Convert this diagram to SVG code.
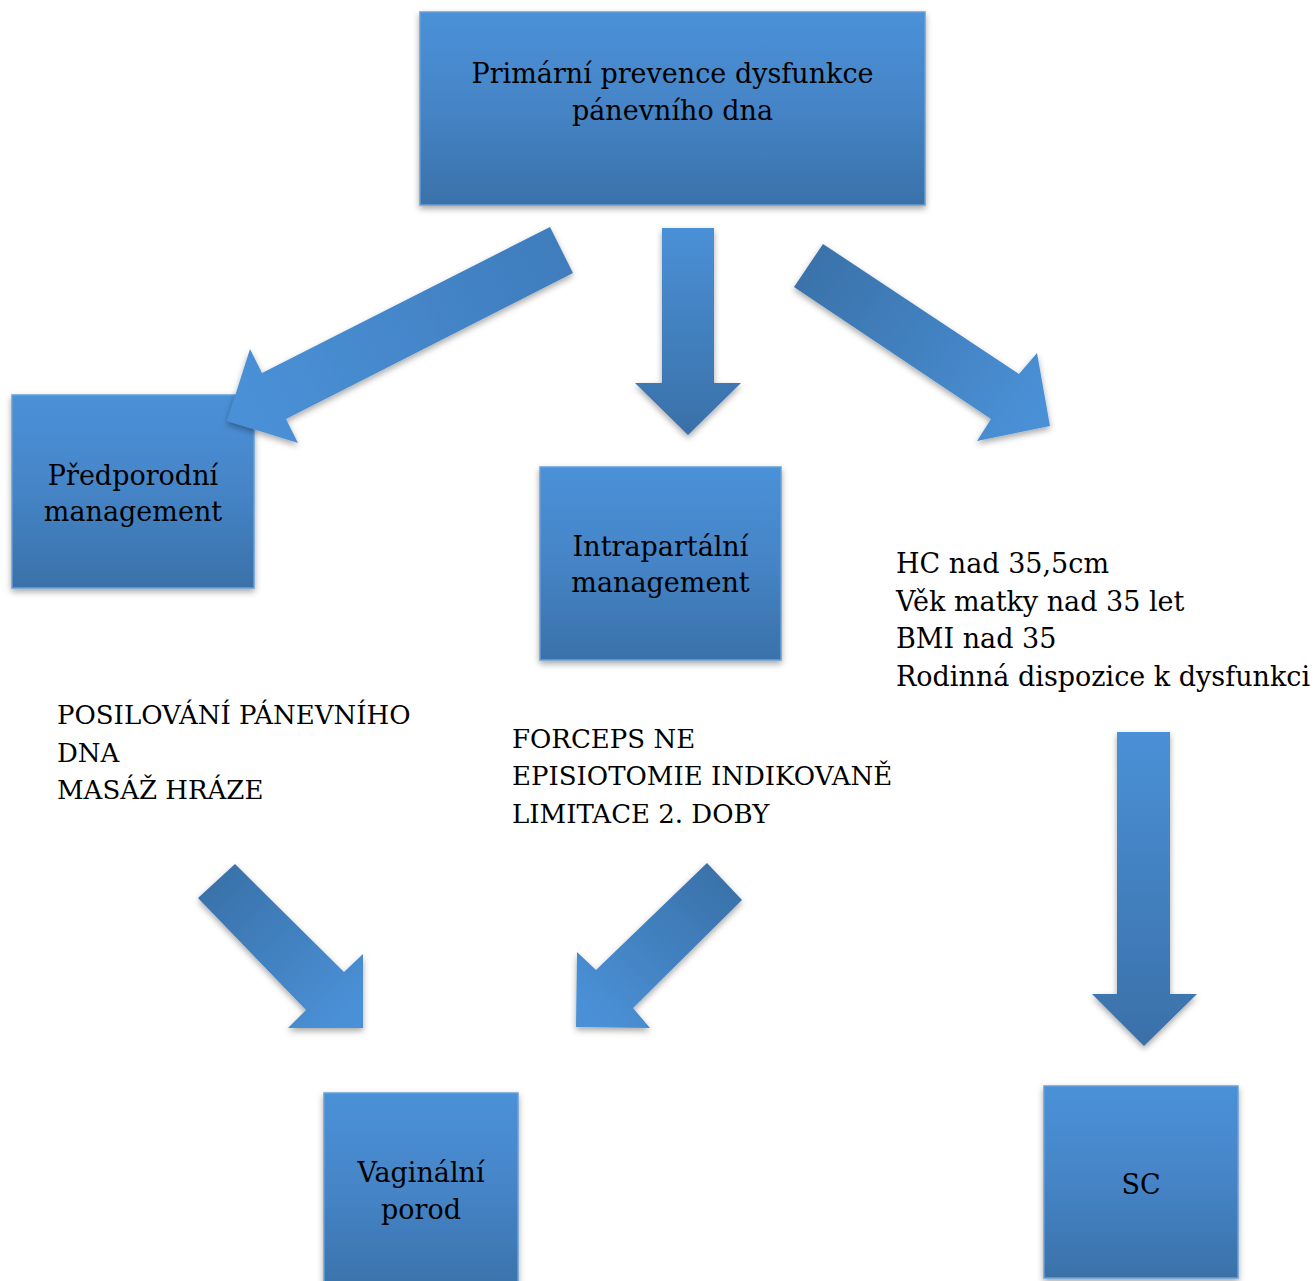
<svg xmlns="http://www.w3.org/2000/svg" width="1315" height="1281" viewBox="0 0 1315 1281">
<style>
.box{stroke:#6a9fd6;stroke-width:1.5;fill:url(#gBox);filter:url(#sh)}
.arrow{filter:url(#sh)}
text{font-family:"DejaVu Serif","Liberation Serif",serif;font-size:27px;fill:#000}
.u{font-size:26px}
.c{text-anchor:middle}
</style>
<defs>
<filter id="sh" x="-20%" y="-20%" width="140%" height="140%">
<feDropShadow dx="0" dy="3" stdDeviation="3" flood-color="#000" flood-opacity="0.35"/>
</filter>
<linearGradient id="gBox" x1="0" y1="0" x2="0" y2="1">
<stop offset="0" stop-color="#4a91d8"/>
<stop offset="0.5" stop-color="#4584c6"/>
<stop offset="1" stop-color="#3a71a9"/>
</linearGradient>
<linearGradient id="gDown" x1="0" y1="0" x2="0" y2="1">
<stop offset="0" stop-color="#4a90d6"/>
<stop offset="1" stop-color="#3a70a8"/>
</linearGradient>
<linearGradient id="gA1" gradientUnits="userSpaceOnUse" x1="561" y1="250" x2="250" y2="400">
<stop offset="0" stop-color="#3f7dbd"/>
<stop offset="1" stop-color="#4a90d6"/>
</linearGradient>
<linearGradient id="gA3" gradientUnits="userSpaceOnUse" x1="808" y1="265" x2="1030" y2="420">
<stop offset="0" stop-color="#3a72aa"/>
<stop offset="1" stop-color="#4a90d6"/>
</linearGradient>
<linearGradient id="gA4" gradientUnits="userSpaceOnUse" x1="216" y1="881" x2="345" y2="1015">
<stop offset="0" stop-color="#3a72aa"/>
<stop offset="1" stop-color="#4a90d6"/>
</linearGradient>
<linearGradient id="gA5" gradientUnits="userSpaceOnUse" x1="724" y1="881" x2="595" y2="1015">
<stop offset="0" stop-color="#3a72aa"/>
<stop offset="1" stop-color="#4a90d6"/>
</linearGradient>
</defs>

<g id="node-primarni">
<rect class="box" x="420" y="12" width="505" height="193"/>
<text class="c" x="672.5" y="83">Primární prevence dysfunkce</text>
<text class="c" x="672.5" y="120">pánevního dna</text>
</g>

<g id="node-predporodni">
<rect class="box" x="12" y="395" width="242" height="193"/>
<text class="c" x="133" y="485">Předporodní</text>
<text class="c" x="133" y="521">management</text>
</g>

<g id="node-intrapartalni">
<rect class="box" x="540" y="467" width="241" height="193"/>
<text class="c" x="660.5" y="556">Intrapartální</text>
<text class="c" x="660.5" y="592">management</text>
</g>

<g id="node-vaginalni">
<rect class="box" x="324" y="1093" width="194" height="200"/>
<text class="c" x="421" y="1182">Vaginální</text>
<text class="c" x="421" y="1219">porod</text>
</g>

<g id="node-sc">
<rect class="box" x="1044" y="1086" width="194" height="192"/>
<text class="c" x="1141" y="1194">SC</text>
</g>

<g id="connectors">
<polygon class="arrow" fill="url(#gA1)" points="550,227 573,273 286,419 298,443 227,421 250,349 262,373"/>
<polygon class="arrow" fill="url(#gDown)" points="662,228 714,228 714,383 741,383 688,435 635,383 662,383"/>
<polygon class="arrow" fill="url(#gA3)" points="823,244 1019,374 1037,353 1050,426 977,441 991,419 794,287"/>
<polygon class="arrow" fill="url(#gA4)" points="235,864 344,972 363,954 363,1028 288,1028 306,1010 198,898"/>
<polygon class="arrow" fill="url(#gA5)" points="707,863 742,900 633,1008 650,1028 576,1027 577,952 596,970"/>
<polygon class="arrow" fill="url(#gDown)" points="1117,732 1170,732 1170,994 1197,994 1144,1046 1092,994 1117,994"/>
</g>

<g id="text-rizika">
<text x="896" y="573">HC nad 35,5cm</text>
<text x="896" y="611">Věk matky nad 35 let</text>
<text x="896" y="648">BMI nad 35</text>
<text x="896" y="686">Rodinná dispozice k dysfunkci</text>
</g>

<g id="text-predporodni">
<text class="u" x="57" y="724">POSILOVÁNÍ PÁNEVNÍHO</text>
<text class="u" x="57" y="762">DNA</text>
<text class="u" x="57" y="799">MASÁŽ HRÁZE</text>
</g>

<g id="text-intrapartalni">
<text class="u" x="512" y="748">FORCEPS NE</text>
<text class="u" x="512" y="785">EPISIOTOMIE INDIKOVANĚ</text>
<text class="u" x="512" y="823">LIMITACE 2. DOBY</text>
</g>
</svg>
